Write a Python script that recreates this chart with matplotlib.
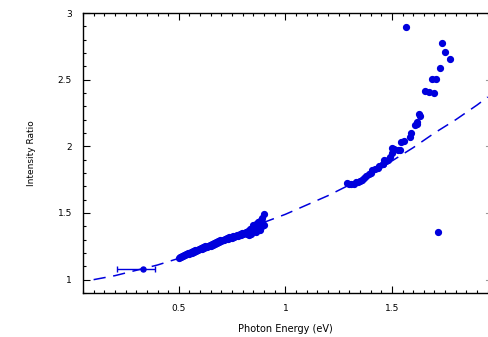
import numpy as np
import matplotlib
matplotlib.use("Agg")
import matplotlib.pyplot as plt
from matplotlib.ticker import MultipleLocator

blue = '#0000dd'

# dashed model curve
curve_x = [0.1, 0.2, 0.3, 0.4, 0.5, 0.6, 0.7, 0.8, 0.9, 1.0,
           1.1, 1.2, 1.3, 1.4, 1.5, 1.6, 1.7, 1.8, 1.9, 1.95]
curve_y = [1.00, 1.03, 1.07, 1.11, 1.16, 1.22, 1.29, 1.36, 1.43, 1.49,
           1.56, 1.63, 1.71, 1.80, 1.89, 1.99, 2.10, 2.20, 2.31, 2.37]

# low energy band of measurements
low_x = [0.50, 0.51, 0.52, 0.53, 0.54, 0.55, 0.56, 0.57, 0.58, 0.59,
         0.60, 0.61, 0.62, 0.63, 0.64, 0.65, 0.66, 0.67, 0.68, 0.69,
         0.70, 0.71, 0.72, 0.73, 0.74, 0.75, 0.76, 0.77, 0.78, 0.79,
         0.80, 0.81, 0.82, 0.83, 0.84, 0.85, 0.86, 0.87, 0.88,
         0.505, 0.515, 0.525, 0.535, 0.545, 0.555, 0.565, 0.575, 0.585, 0.595,
         0.605, 0.615, 0.625, 0.635, 0.645, 0.655, 0.665, 0.675, 0.685, 0.695,
         0.705, 0.715, 0.725, 0.735, 0.745, 0.755, 0.765, 0.775, 0.785, 0.795,
         0.805, 0.815, 0.825, 0.835, 0.845, 0.855, 0.865, 0.875,
         0.84, 0.86, 0.87, 0.88, 0.89, 0.89, 0.90, 0.89, 0.90, 0.85,
         0.83, 0.87, 0.88, 0.82, 0.86]
low_y = [1.160, 1.168, 1.175, 1.182, 1.190, 1.196, 1.203, 1.209, 1.215, 1.221,
         1.227, 1.233, 1.238, 1.244, 1.250, 1.256, 1.262, 1.269, 1.276, 1.283,
         1.290, 1.296, 1.302, 1.308, 1.312, 1.316, 1.320, 1.325, 1.330, 1.336,
         1.342, 1.348, 1.356, 1.365, 1.375, 1.385, 1.395, 1.405, 1.420,
         1.172, 1.180, 1.187, 1.194, 1.201, 1.208, 1.214, 1.220, 1.226, 1.232,
         1.238, 1.244, 1.249, 1.255, 1.261, 1.267, 1.273, 1.280, 1.287, 1.294,
         1.301, 1.307, 1.313, 1.318, 1.322, 1.326, 1.330, 1.335, 1.341, 1.347,
         1.353, 1.360, 1.368, 1.378, 1.388, 1.398, 1.410, 1.425,
         1.340, 1.360, 1.380, 1.440, 1.430, 1.400, 1.490, 1.460, 1.410, 1.410,
         1.335, 1.430, 1.370, 1.340, 1.420]

# high energy measurements
high_x = [1.291, 1.307, 1.330, 1.351, 1.370, 1.393, 1.409, 1.433, 1.456, 1.472,
          1.300, 1.320, 1.340, 1.360, 1.380, 1.400, 1.420, 1.440, 1.460, 1.480,
          1.465, 1.492, 1.500, 1.499, 1.511, 1.527, 1.540, 1.542, 1.555, 1.583,
          1.590, 1.610, 1.617, 1.620, 1.626, 1.634, 1.654, 1.676, 1.700, 1.687,
          1.706, 1.725, 1.736, 1.747, 1.774, 1.568, 1.716]
high_y = [1.724, 1.716, 1.729, 1.741, 1.766, 1.791, 1.821, 1.840, 1.866, 1.890,
          1.720, 1.720, 1.735, 1.750, 1.775, 1.800, 1.830, 1.850, 1.870, 1.900,
          1.900, 1.923, 1.948, 1.990, 1.983, 1.973, 1.973, 2.030, 2.037, 2.070,
          2.100, 2.160, 2.170, 2.180, 2.240, 2.224, 2.418, 2.410, 2.403, 2.502,
          2.507, 2.590, 2.777, 2.710, 2.652, 2.894, 1.360]

# single point with horizontal error bar
err_x = [0.332]
err_y = [1.08]
err_lo = [0.124]
err_hi = [0.054]

fig = plt.figure(figsize=(4.88, 3.37), dpi=100)
ax = fig.add_axes([0.170, 0.1306, 0.8295, 0.8308])

ax.plot(curve_x, curve_y, color=blue, lw=1.1, dashes=(8, 5))
ax.plot(low_x, low_y, 'o', color=blue, ms=4.2, mec=blue)
ax.plot(high_x, high_y, 'o', color=blue, ms=4.2, mec=blue)
ax.errorbar(err_x, err_y, xerr=[err_lo, err_hi], fmt='o', color=blue,
            ms=3.6, elinewidth=1.0, capsize=2, capthick=1.0)

ax.set_xlim(0.05, 1.95)
ax.set_ylim(0.9, 3.0)
ax.xaxis.set_minor_locator(MultipleLocator(0.05))
ax.yaxis.set_minor_locator(MultipleLocator(0.1))
ax.set_xticks([0.5, 1.0, 1.5])
ax.set_xticklabels(['0.5', '1', '1.5'])
ax.set_yticks([1.0, 1.5, 2.0, 2.5, 3.0])
ax.set_yticklabels(['1', '1.5', '2', '2.5', '3'])

ax.tick_params(which='both', direction='in', top=True, right=False,
               width=0.8, labelsize=6.5, colors='black')
ax.tick_params(which='major', length=5)
ax.tick_params(which='minor', length=2.5)
ax.tick_params(axis='x', pad=8)
ax.tick_params(axis='y', pad=8)
ax.spines['right'].set_visible(False)
for s in ['left', 'bottom', 'top']:
    ax.spines[s].set_linewidth(1.0)

# short marks along the right edge at the major y values
for yv in [1.0, 1.5, 2.0, 2.5]:
    ax.plot([1.94, 1.95], [yv, yv], color='#999999', lw=0.8, clip_on=False)

ax.set_xlabel('Photon Energy (eV)', fontsize=7)
ax.set_ylabel('Intensity Ratio', fontsize=6.5)
ax.xaxis.set_label_coords(0.5, -0.11)
ax.yaxis.set_label_coords(-0.115, 0.5)

fig.savefig('out.png', dpi=100)
